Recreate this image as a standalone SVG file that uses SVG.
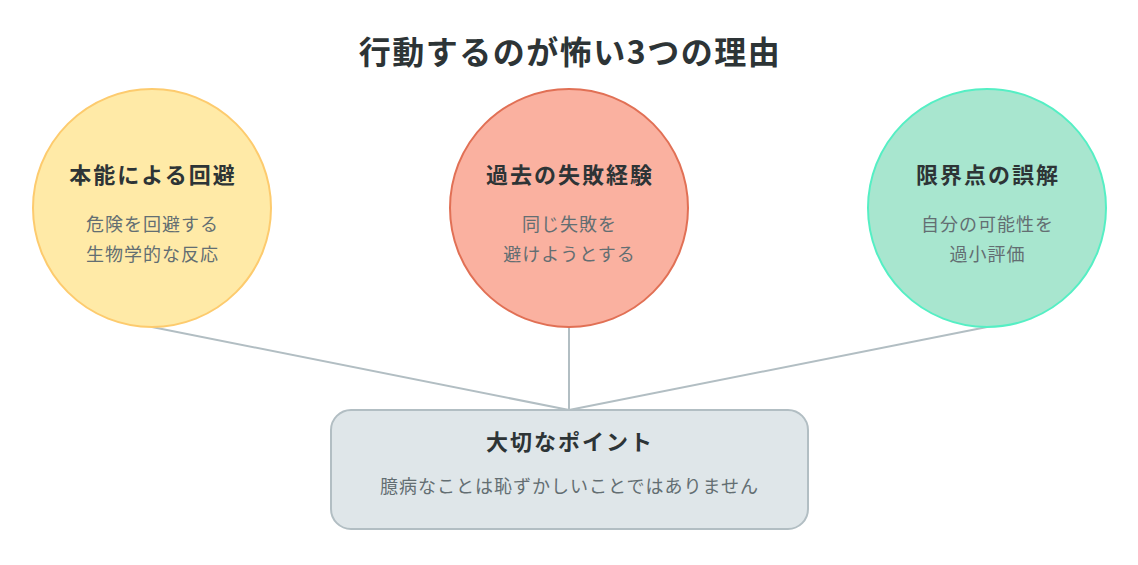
<svg xmlns="http://www.w3.org/2000/svg" width="1138" height="565" viewBox="0 0 1138 565">
<style>
text{font-family:"Noto Sans CJK JP","Noto Sans CJK SC",sans-serif;text-anchor:middle}
.title{font-size:32px;font-weight:bold;fill:#2d3436;letter-spacing:1.5px}
.h{font-size:22px;font-weight:bold;fill:#2d3436;letter-spacing:2px}
.s{font-size:18px;fill:#636e72;letter-spacing:1px}
.conn line{stroke:#b2bec3;stroke-width:2}
</style>
<rect width="1138" height="565" fill="#ffffff"/>
<text class="title" x="570" y="64">行動するのが怖い3つの理由</text>
<g id="connectors" class="conn">
<line x1="152" y1="327" x2="569" y2="410"/>
<line x1="569" y1="327" x2="569" y2="410"/>
<line x1="987" y1="327" x2="569" y2="410"/>
</g>
<g id="node-instinct">
<circle cx="152" cy="208" r="119" fill="#ffeaa7" stroke="#fdcb6e" stroke-width="2"/>
<text class="h" x="153" y="183">本能による回避</text>
<text class="s" x="152.5" y="231">危険を回避する</text>
<text class="s" x="152.5" y="261">生物学的な反応</text>
</g>
<g id="node-failure">
<circle cx="569" cy="208" r="119" fill="#fab1a0" stroke="#e17055" stroke-width="2"/>
<text class="h" x="570" y="183">過去の失敗経験</text>
<text class="s" x="569.5" y="231">同じ失敗を</text>
<text class="s" x="569.5" y="261">避けようとする</text>
</g>
<g id="node-limit">
<circle cx="987" cy="208" r="119" fill="#a8e6cf" stroke="#55efc4" stroke-width="2"/>
<text class="h" x="988" y="183">限界点の誤解</text>
<text class="s" x="987.5" y="231">自分の可能性を</text>
<text class="s" x="987.5" y="261">過小評価</text>
</g>
<g id="node-point">
<rect x="331" y="410" width="477" height="119" rx="20" fill="#dfe6e9" stroke="#b2bec3" stroke-width="2"/>
<text class="h" x="570" y="450">大切なポイント</text>
<text class="s" x="569.5" y="493">臆病なことは恥ずかしいことではありません</text>
</g>
</svg>
